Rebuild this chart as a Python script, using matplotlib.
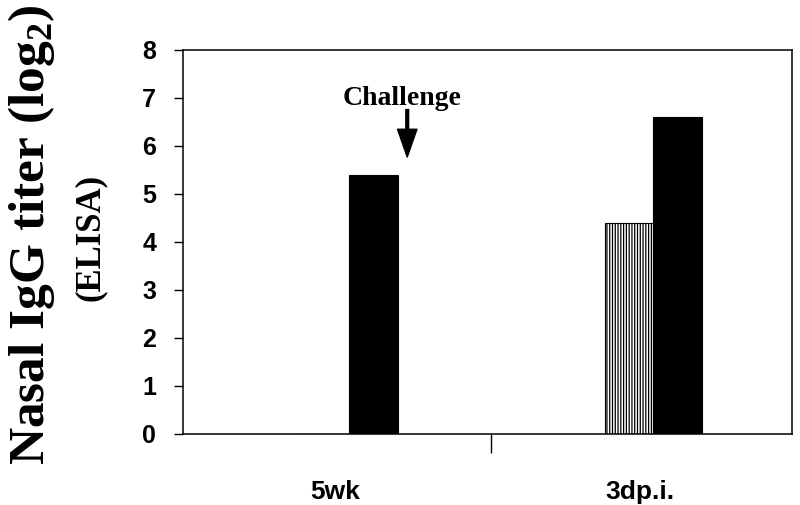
import numpy as np
import matplotlib
matplotlib.use('Agg')
import matplotlib.pyplot as plt

# donnees
categories = ['5wk', '3dp.i.']
titre_raye = [0.0, 4.4]   # barres hachurees
titre_noir = [5.4, 6.6]   # barres noires
y_ticks = [0, 1, 2, 3, 4, 5, 6, 7, 8]

plt.rcParams['mathtext.fontset'] = 'custom'
plt.rcParams['mathtext.rm'] = 'Liberation Serif:bold'
plt.rcParams['mathtext.bf'] = 'Liberation Serif:bold'
plt.rcParams['hatch.linewidth'] = 0.9

fig = plt.figure(figsize=(8, 5.05), dpi=100)
ax = fig.add_axes([0.229, 0.1406, 0.761, 0.7604])

x = np.arange(len(categories))
largeur = 0.16
decal_noir = 0.125
decal_raye = decal_noir - largeur

ax.bar(x + decal_raye, titre_raye, largeur, color='white', edgecolor='black',
       hatch='||||||', linewidth=0.8)
ax.bar(x + decal_noir, titre_noir, largeur, color='black', edgecolor='black',
       linewidth=0.8)

ax.set_xlim(-0.5, 1.5)
ax.set_ylim(0, 8)
ax.set_yticks(y_ticks)

# etiquettes de categories, sans graduation; une seule graduation au milieu
ax.set_xticks(x)
ax.set_xticklabels(categories)
ax.set_xticks([0.51], minor=True)
ax.tick_params(axis='x', which='major', length=0, pad=33)
ax.tick_params(axis='x', which='minor', length=14, width=1, direction='out')
ax.tick_params(axis='y', length=6.5, width=1, direction='out', pad=13)

for lab in ax.get_xticklabels():
    lab.set_family('Liberation Sans')
    lab.set_fontweight('bold')
    lab.set_fontsize(19)
for lab in ax.get_yticklabels():
    lab.set_family('Liberation Sans')
    lab.set_fontweight('bold')
    lab.set_fontsize(18)

for sp in ax.spines.values():
    sp.set_linewidth(1.1)

# fleche "Challenge"
ax.annotate('', xy=(0.236, 5.77), xytext=(0.236, 6.76),
            arrowprops=dict(facecolor='black', edgecolor='black', width=2,
                            headwidth=14, headlength=20, shrink=0))
ax.text(0.22, 6.85, 'Challenge', ha='center', va='baseline',
        family='Liberation Serif', fontweight='bold', fontsize=20)

# titres de l'axe vertical
fig.text(0.04, 0.535, r'Nasal IgG titer (log$_2$)', rotation=90,
         ha='center', va='center', family='Liberation Serif',
         fontweight='bold', fontsize=37)
fig.text(0.1125, 0.53, '(ELISA)', rotation=90, ha='center', va='center',
         family='Liberation Serif', fontweight='bold', fontsize=25)

plt.savefig('out.png', dpi=100)
